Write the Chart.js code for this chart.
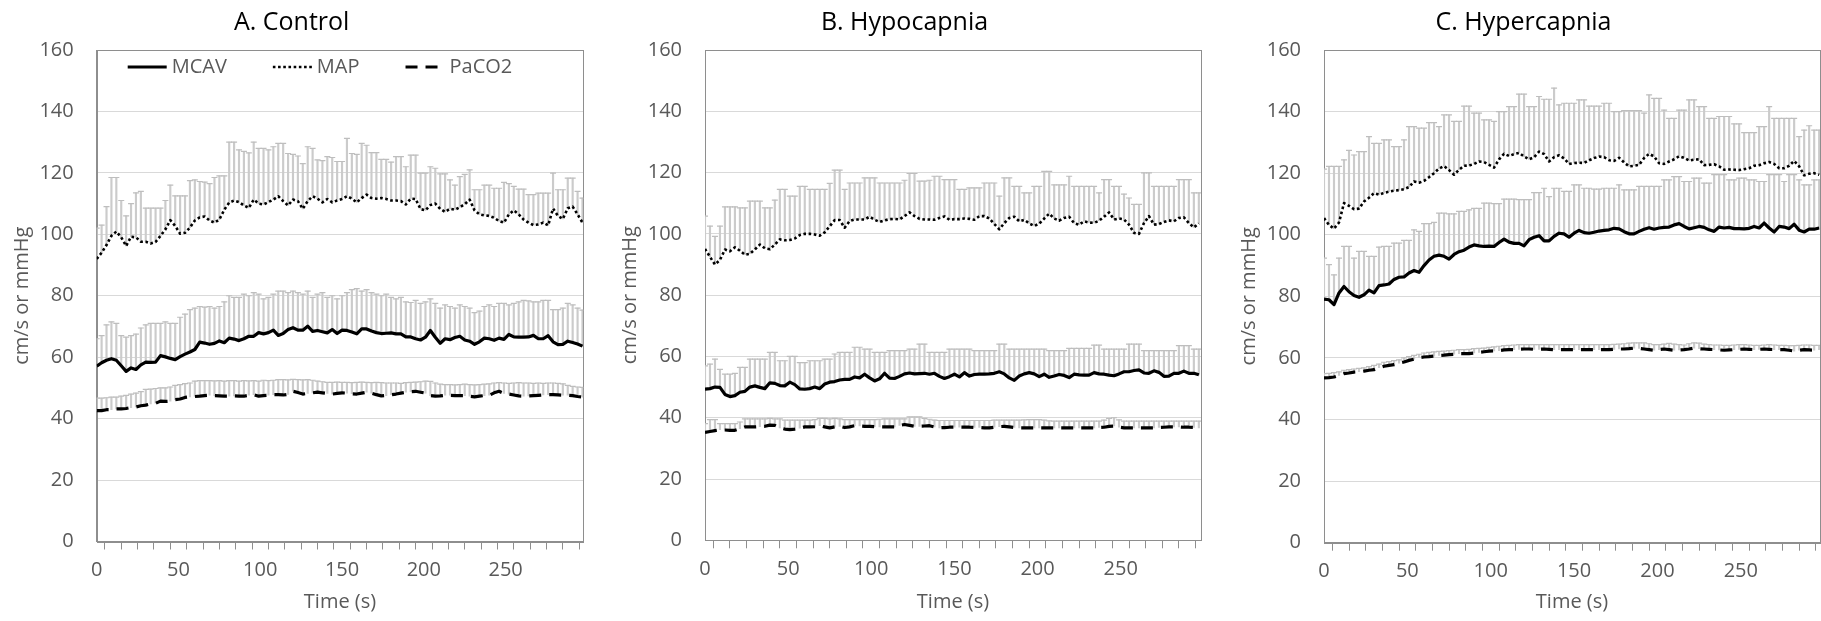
<!DOCTYPE html>
<html><head><meta charset="utf-8">
<script src="https://cdn.jsdelivr.net/npm/chart.js@4.4.1/dist/chart.umd.min.js"></script>
<style>
html,body{margin:0;padding:0;background:#fff;width:1821px;height:621px;overflow:hidden;position:relative}
.p{position:absolute;top:0;height:621px}
</style></head><body>
<div class="p" style="left:0px;width:680px"><canvas id="ca"></canvas></div>
<div class="p" style="left:608px;width:690px"><canvas id="cb"></canvas></div>
<div class="p" style="left:1227px;width:732px"><canvas id="cc"></canvas></div>
<script>
// ---- data (time in s) ----
const time = [0,3,6,9,12,15,18,21,24,27,30,33,36,39,42,45,48,51,54,57,60,63,66,69,72,75,78,81,84,87,90,93,96,99,102,105,108,111,114,117,120,123,126,129,132,135,138,141,144,147,150,153,156,159,162,165,168,171,174,177,180,183,186,189,192,195,198,201,204,207,210,213,216,219,222,225,228,231,234,237,240,243,246,249,252,255,258,261,264,267,270,273,276,279,282,285,288,291,294,297];
const xTickLabels = [0,50,100,150,200,250];
const yTickValues = [0,20,40,60,80,100,120,140,160];
const seriesNames = ['MCAV','MAP','PaCO2'];
const panelTitles = ['A. Control','B. Hypocapnia','C. Hypercapnia'];

// A. Control
const aMcav = [57.1,58.2,59,59.5,59,57.2,55.4,56.5,56,57.5,
 58.4,58.3,58.4,60.5,60.1,59.6,59.2,60.2,61,61.7,
 62.5,64.9,64.6,64.2,64.5,65.3,64.7,66.2,65.9,65.4,
 66,66.8,66.8,68,67.6,68,68.8,67.1,67.7,69,
 69.6,68.8,68.8,70.1,68.4,68.7,68.3,67.9,69,67.7,
 68.8,68.7,68.2,67.6,69.2,69.2,68.5,68,67.7,67.8,
 67.9,67.6,67.6,66.6,66.6,66,65.6,66.5,68.7,66.5,
 64.5,66,65.7,66.4,66.8,65.6,65.2,64.2,65,66.2,
 66,65.5,66.2,65.8,67.4,66.6,66.5,66.5,66.6,67.1,
 66,66,67,65,64.1,64.2,65.2,64.8,64.3,63.6];
const aMcavUp = [66,67,70.5,71.5,71,67,66.5,67,67.5,69.5,
 70.5,71,71,71,71.5,71,71,73,74,75.5,
 76,76.5,76.3,76.5,76,76.5,78,80,79.5,79.5,
 80.5,80,81,80.5,79,79.5,80.5,81.5,81.5,81,
 81.5,81,80.5,81.5,79.5,80.5,81,79.5,80,79,
 80,81,82,82.3,81.5,82,81,80.5,80,80.5,
 79.5,79,79.5,78,77.8,78.5,77.5,78,79,77.5,
 76,77,76.5,76,77,76.5,76,74.5,75,76.5,
 77,76.5,77.5,77.5,77,77.5,78,78.5,78.3,78,
 78,78.5,78.5,75.5,75.5,76,77.5,77,76,75.3];
const aMap = [92,94,96.5,99.5,100.9,99,96.2,99.2,99,97.6,
 97.6,97,97.5,99.5,101.6,104.6,102.7,100.2,100.5,102.2,
 104.5,105.5,105.8,104.5,103.8,104.8,108,110.3,111,110.5,
 109.4,108.6,111.3,110,109.7,110.5,111.3,112.4,110.8,109.4,
 111.3,110.8,108.3,110.8,112.4,111.6,110.4,111.5,110.4,111,
 111.5,112.4,111.6,110.4,111.8,112.9,111.8,111.6,111.8,111.5,
 111,111,110.8,109.7,111.6,111.5,108.2,107.8,109.5,110,
 108.3,107.3,108.3,108,108.8,109.8,111.3,107.8,106.5,106.2,
 106,105.4,104.3,103.8,106.5,107.8,106.5,104.8,103.8,103,
 103.2,103.8,102.9,108.4,106,105,108.5,109,106.5,103.8];
const aMapUp = [102,103,109,118.5,118.5,111,106,110,113.5,114,
 108.5,108.5,108.5,108.5,111,116,112.5,112.5,112.5,117.5,
 117.7,117.2,117,116.5,118.5,119,119,130,130,127.5,
 127,126.5,130,128,128,127.5,128.5,129.6,129.6,126.3,
 126,125.5,123,128.5,128,124.2,124,125.3,125,123.7,
 123.7,131.2,126.3,126,129.6,129,126.6,126.6,124.4,124.4,
 123.5,125.3,125.3,122,125.8,125.8,119.9,119.9,122,121.5,
 119.7,119.7,117.7,116,118.8,119.5,121,114.5,114.5,116,
 116,115,115,116.9,116.5,115.6,114.7,114.7,112.9,112.9,
 113.4,113.4,113.4,119.9,114.5,114.5,118.3,118.3,114,111.8];
const aPaco2 = [42.6,42.6,42.9,42.9,43.2,43.2,43.3,43.6,43.8,44.2,
 44.4,44.8,45,45.7,45.6,45.7,46.2,46.4,46.9,47.1,
 47.2,47.3,47.5,47.6,47.5,47.4,47.3,47.3,47.4,47.3,
 47.3,47.6,47.8,47.3,47.5,47.6,47.8,47.8,47.7,47.9,
 48.9,48.5,48,48.2,48.4,48.6,48.4,48.2,48,48.2,
 48.4,48.3,48.1,48,48.3,48.6,48.3,47.8,47.4,47.5,
 47.8,48,48.3,48.6,48.8,48.9,48.6,48.3,47.5,47.3,
 47.4,47.6,47.6,47.5,47.5,47.5,47.3,47.1,47.3,47.5,
 47.6,48.4,48.9,48.2,48,47.7,47.4,47.3,47.4,47.5,
 47.6,47.7,47.8,47.8,47.7,47.6,47.6,47.5,47.2,47];
const aPaco2Up = [46.7,46.7,46.8,47,47,47.3,47.6,48,48.3,48.8,
 49.5,49.6,49.8,50,50,50.3,50.8,51.1,51.4,51.6,
 52.2,52.4,52.4,52.4,52.3,52.4,52.2,52.4,52.4,52.2,
 52.4,52.3,52.4,52.2,52.5,52.4,52.5,52.7,52.7,52.6,
 52.8,52.7,52.6,52.7,52.5,52.2,52,51.8,51.8,51.9,
 51.8,51.8,51.7,51.8,51.9,51.8,51.7,51.8,51.7,51.6,
 51.6,51.6,51.5,51.7,51.8,51.9,52,52.2,52.1,51.6,
 51.2,51.1,51.1,51,51.1,51.2,51.1,51,51.1,51.2,
 51.3,51.6,51.7,51.6,51.5,51.6,51.7,51.6,51.6,51.5,
 51.6,51.5,51.6,51.6,51.5,51.3,50.8,50.5,50.3,50.2];

// B. Hypocapnia
const bMcav = [49.3,49.5,50,49.9,47.6,46.9,47.2,48.3,48.6,50,
 50.4,49.9,49.5,51.4,51.2,50.5,50.4,51.6,50.8,49.4,
 49.3,49.5,50,49.5,51,51.6,51.8,52.3,52.5,52.5,
 53.3,53,54.2,53,52,52.7,54.5,52.9,52.8,53.5,
 54.3,54.6,54.3,54.4,54.5,54.2,54.5,53.5,52.8,53.4,
 54.2,53.3,54.7,53.6,54.1,54.2,54.2,54.3,54.5,55,
 54.3,53,52.2,53.6,54.3,54.7,54.3,53.4,54.2,53.2,
 53.6,54.1,53.8,53.1,54.2,54,53.9,53.9,54.7,54.3,
 54.2,53.9,53.7,54.3,55,55,55.4,55.6,54.6,54.5,
 55.3,54.8,53.5,53.6,54.5,54.5,55.2,54.5,54.5,54];
const bMcavUp = [56.9,57.5,59.1,55.8,54.2,54.2,54.5,56.4,56.4,59.1,
 59.1,59.1,59.1,61.3,61.3,58.6,58.6,60,60,58,
 58,58.6,58.6,58.6,59.1,59.1,60.8,61.3,61.3,61.3,
 63,63,62.4,62.4,61.3,61.3,61.3,61.9,61.9,61.9,
 61.9,62.4,62.4,64,64,61.3,61.3,61.3,61.3,62.4,
 62.4,62.4,62.4,62.4,61.9,61.9,61.9,61.9,61.9,64,
 64,62.4,62.4,62.4,62.4,62.4,62.4,62.4,62.4,61.9,
 61.9,61.9,61.9,62.6,62.6,62.6,62.6,62.6,63.7,63.7,
 62.4,62.4,62.4,62.4,62.4,64,64,64,61.9,61.9,
 61.9,61.9,61.9,61.9,61.9,63.5,63.5,63.5,62.4,62.4];
const bMap = [95.1,92.5,90,91.5,94.9,94.3,95.6,94.5,93.2,93.5,
 94.9,96.5,95.3,95,96.5,98.2,97.9,98,98.5,99.6,
 100,100,99.8,99.4,100.5,102.5,104.5,104.5,102,104.2,
 104.7,104.7,104.7,105.6,104.6,103.9,104.4,104.8,104.9,104.7,
 105.8,107,105.8,104.9,104.7,104.7,104.6,105.2,105.7,104.6,
 104.8,104.8,105,104.9,104.6,105.8,105.8,105,103.2,101.5,
 103.5,105.2,105.6,104.1,104.6,103.4,102.6,103.3,105,106.6,
 105,104.3,105.2,105.6,103.5,103,104.1,103.7,103.6,104.3,
 105.6,107,104.7,105,104.7,103,100.3,100,103.5,105.8,
 103,103.2,103.9,104.4,104.1,105.2,105.4,103.5,102.1,103.4];
const bMapUp = [105.8,102.5,99.2,102.5,108.8,108.8,108.8,108.5,108.5,110.7,
 110.7,110.7,108.5,108.5,111,114.5,114.5,112.3,112.3,115.5,
 115.5,114.5,114.5,114.5,114.5,116.5,120.8,120.8,114.5,116.6,
 116.6,116.6,118.3,118.3,118.3,116.6,116.6,116.6,116.6,116.6,
 117.5,119.7,119.7,117.2,117.2,117.5,118.8,118.8,117.7,117.7,
 117.7,114.5,114.5,115,115,115,116.6,116.6,116.6,112.3,
 118.3,118.3,115.5,115.5,113.4,113.4,115.5,115.5,120.4,120.4,
 116,116,116,118.8,115.5,115.5,115.5,115.5,115.5,113.4,
 117.7,117.7,115.5,115.5,113,111.7,109.6,109.6,119.9,119.9,
 115.5,115.5,115.5,115.5,115.5,117.7,117.7,117.7,113.4,113.4];
const bPaco2 = [35.2,35.5,35.8,36.1,36,35.9,35.9,36.4,37,37,
 37,37.1,37.2,37.6,37.5,36.7,36.3,36.1,36.3,36.6,
 37,37,37.1,37.4,37,36.7,37,37.2,36.8,37,
 37.4,37.3,37.2,37.2,37.1,37,37,37,37,37.5,
 37.8,37.5,37.2,37.2,37.3,37.4,37,36.7,36.8,36.9,
 36.9,36.9,36.9,36.9,36.8,36.8,36.7,36.7,36.9,37.1,
 37.2,37,36.8,36.7,36.7,36.7,36.7,36.7,36.7,36.7,
 36.7,36.7,36.7,36.7,36.7,36.7,36.7,36.7,36.7,36.8,
 36.9,37.2,37.3,36.9,36.7,36.7,36.7,36.7,36.7,36.7,
 36.7,36.8,36.9,37,37,37,36.9,36.9,36.8,36.7];
const bPaco2Up = [38.1,39.4,39.4,38.1,38.1,38.1,38.1,38.6,39.6,39.6,
 39.6,39.6,39.6,39.8,39.6,39.6,39.2,39.2,39.2,39.2,
 39.2,39.2,39.4,39.8,39.8,39.6,39.8,39.6,39.4,39.4,
 39.4,39.4,39.4,39.4,39.4,39.5,39.6,39.6,39.6,39.6,
 39.6,40.3,40.3,40.3,39.8,39.5,39.2,39.1,39.1,39.1,
 39.1,39.1,39.1,39.1,39.1,39.1,39.1,39.1,39.2,39.2,
 39.2,39.2,39.2,39.2,39.3,39.4,39.4,39.4,39.2,39,
 38.9,38.9,38.9,38.9,38.9,38.9,38.9,38.9,38.9,38.9,
 39.2,39.8,40,39.3,38.9,38.9,38.9,38.9,38.9,38.9,
 38.9,38.9,38.9,38.9,38.9,38.9,38.9,38.9,38.9,38.9];

// C. Hypercapnia
const cMcav = [79.1,78.9,77.3,81.1,83.2,81.5,80.3,79.7,80.5,82,
 81.1,83.5,83.7,84,85.5,86.2,86.3,87.6,88.4,87.8,
 90,91.8,93,93.4,93,92.1,93.6,94.5,95,96,
 96.7,96.4,96.2,96.3,96.2,97.5,98.6,97.6,97.2,97.2,
 96.4,98.4,99.2,99.7,98,98,99.5,100.5,100.3,99.2,
 100.5,101.4,100.7,100.5,100.8,101.2,101.4,101.6,102.1,101.9,
 101,100.3,100.3,101.1,101.8,102.3,101.8,102.2,102.4,102.5,
 103.2,103.6,102.7,101.9,102.3,102.7,102.4,101.6,101.1,102.5,
 102.2,102.4,102,102,101.9,102.1,102.7,102.2,103.8,102.2,
 100.9,102.7,102.5,102,103.4,101.5,100.9,101.8,101.8,102.2];
const cMcavUp = [92.4,90.3,87,92.4,96.2,96.2,92.4,94.6,94.6,93,
 93,96,96.2,96.2,97.3,97.3,98.2,98.2,101.6,101.1,
 103.6,103.6,104,107,107,106.8,106.8,107.6,107.6,108.1,
 108.6,108.6,110.3,110.3,110.1,110.1,111.6,111.6,111.6,111.4,
 111.4,111.4,113.7,113.7,115.1,112.4,115.1,115.1,114.1,114.1,
 116.2,116.2,115.1,115.1,114.8,114.8,115.1,115.1,115.1,116.2,
 114.6,114.6,114.6,115.7,115.7,115.7,115.7,115.7,117.8,117.8,
 118.9,118.9,117.3,117.3,118.4,118.4,116.8,116.8,119.5,119.5,
 119.5,117.8,117.8,118.4,118.4,117.8,117.8,117.3,117.3,119.5,
 119.5,119.5,117.3,119.5,119.5,117.8,116.2,116.2,117.8,117.8];
const cMap = [105.4,103.2,102,104,110.3,109.4,108.3,108.5,110.8,112,
 113.5,113,113.6,114,114.3,114.5,114.8,115.5,117.3,116.9,
 117.5,118.7,120,121.5,122.3,121,119.5,121.1,122.4,122.5,
 123,123.8,123.6,122.7,121.8,124.5,126.3,125.6,126.2,126.6,
 125.4,124.5,125.2,127,126.2,123.8,125.2,125.8,124.8,123,
 123.3,123.4,123.3,124.2,124.9,125.4,125.2,124.2,124,125,
 123.5,122.2,122.4,122.7,124.9,126.3,125.4,123.2,123,123.8,
 124.5,125.5,125,124.1,124.4,124.5,122.6,122.7,122.9,122.2,
 121.1,121.2,121.1,121,121.3,121.6,122.4,122.6,123.2,123.6,
 123,121.6,121.6,122.4,124,122.2,119.3,119.8,120,119.5];
const cMapUp = [121.3,122.2,122.2,122.2,124.3,127.4,125.9,127,127,131.9,
 129.7,129.7,130.8,130.8,128.6,128.6,130.8,135.1,135.1,134.6,
 134.6,136.4,136.4,135.1,138.9,138.9,136.8,136.8,141.8,141.8,
 139.5,139.5,137.3,137.3,136.8,140,140,141.6,141.6,145.7,
 145.7,141.6,141.6,144.9,144,144,147.6,142.2,142.7,142.7,
 142.7,143.8,143.8,141.8,141.8,141.8,142.7,142.7,140,140,
 140.3,140.3,140.3,140.3,139.5,145.4,144.3,144.3,140.5,137.8,
 137.8,140.5,140.5,143.8,143.8,141.6,141.6,137.8,137.8,138.4,
 138.4,138.4,136,136,133.2,133.2,133.2,135.1,135.1,141.6,
 137.8,137.8,137.8,137.8,137.8,131.9,134,135.4,134,134];
const cPaco2 = [53.5,53.6,53.8,54.3,54.9,55.1,55.4,55.5,55.7,56,
 56.2,56.8,57.3,57.6,57.8,58.3,58.7,59.2,59.6,60.1,
 60.3,60.4,60.6,60.8,60.9,61.1,61.2,61.4,61.4,61.4,
 61.6,61.8,62,62.2,62.3,62.4,62.6,62.7,62.7,62.8,
 62.9,62.9,62.8,62.8,62.9,62.8,62.7,62.7,62.7,62.7,
 62.7,62.7,62.7,62.7,62.7,62.7,62.7,62.7,62.8,62.9,
 62.9,63,63.2,63.1,62.9,62.7,62.5,62.7,62.9,62.7,
 62.5,62.6,62.7,62.9,63.2,63,62.9,62.8,62.7,62.6,
 62.5,62.6,62.7,62.8,62.9,62.8,62.7,62.8,62.9,62.8,
 62.7,62.7,62.7,62.5,62.2,62.5,62.7,62.6,62.5,62.7];
const cPaco2Up = [54.9,55,55.2,55.5,56,56.2,56.4,56.6,56.8,57.2,
 57.6,58,58.6,58.8,59.1,59.4,60,60.4,60.8,61.2,
 61.6,61.8,62,62.1,62.2,62.4,62.5,62.7,62.7,62.8,
 63,63.1,63.2,63.4,63.6,63.8,64,64.1,64.2,64.3,
 64.3,64.3,64.3,64.3,64.3,64.3,64.3,64.3,64.3,64.3,
 64.3,64.3,64.3,64.3,64.3,64.3,64.3,64.3,64.4,64.5,
 64.6,64.8,64.9,64.9,64.9,64.6,64.3,64.3,64.5,64.7,
 64.5,64.3,64.2,64.6,64.9,64.8,64.5,64.3,64.2,64.2,
 64.1,64.1,64.2,64.3,64.3,64.2,64.1,64.1,64.2,64.3,
 64.2,64.1,64.1,64,64,64.1,64.2,64.2,64.1,64.1];

// ---- rendering ----
Chart.defaults.font.family = "'Open Sans', 'DejaVu Sans', sans-serif";
Chart.defaults.color = '#595959';

const AXIS = '#8e8e8e';

const framePlugin = {
  id: 'frame',
  beforeDatasetsDraw(chart) {
    const {ctx, chartArea: a} = chart;
    ctx.save();
    ctx.strokeStyle = AXIS;
    ctx.lineWidth = 1;
    const l = Math.round(a.left) + 0.5, t = Math.round(a.top) + 0.5;
    const r = Math.round(a.right) + 0.5, b = Math.round(a.bottom) + 0.5;
    ctx.strokeRect(l, t, r - l, b - t);
    ctx.restore();
  }
};

const insideLegend = {
  id: 'insideLegend',
  afterDraw(chart, args, opts) {
    if (!opts || !opts.show) return;
    const {ctx, chartArea: a} = chart;
    let x = a.left + opts.offsetX;
    const y = a.top + opts.offsetY;
    ctx.save();
    ctx.font = "20px 'Open Sans'";
    ctx.textBaseline = 'middle';
    ctx.textAlign = 'left';
    chart.data.datasets.filter(d => d.inLegend).forEach(d => {
      ctx.beginPath();
      ctx.setLineDash(d.borderDash || []);
      ctx.lineWidth = d.borderWidth;
      ctx.strokeStyle = d.borderColor;
      ctx.moveTo(x, y); ctx.lineTo(x + opts.lineLen, y);
      ctx.stroke();
      ctx.setLineDash([]);
      x += opts.lineLen + opts.textGap;
      ctx.fillStyle = '#595959';
      ctx.fillText(d.label, x, y);
      x += ctx.measureText(d.label).width + opts.itemGap;
    });
    ctx.restore();
  }
};

const styles = [
  {borderColor: '#000', borderWidth: 3.2, borderDash: []},
  {borderColor: '#000', borderWidth: 2.6, borderDash: [2.6, 2.6]},
  {borderColor: '#000', borderWidth: 3.2, borderDash: [12, 8]}
];

function pts(ys) { return time.map((t, i) => ({x: t, y: ys[i]})); }
function rng(lo, hi) { return time.map((t, i) => ({x: t, y: [lo[i], hi[i]]})); }

function makeChart(id, title, series, xMax, yW, xH, padRight, showLegend) {
  const datasets = [];
  series.forEach((s, k) => {
    datasets.push({type: 'bar', label: '', data: rng(s.mean, s.up), backgroundColor: '#cbcbcb',
      borderWidth: 0, barThickness: 1.5, grouped: false, order: 5});
    datasets.push({type: 'line', label: '', data: pts(s.up), showLine: false, pointStyle: 'line',
      pointRadius: 3, pointBorderColor: '#bebebe', pointBorderWidth: 1.2, order: 4});
  });
  series.forEach((s, k) => {
    datasets.push(Object.assign({type: 'line', label: seriesNames[k], inLegend: true, data: pts(s.mean),
      pointRadius: 0, tension: 0, fill: false, order: k === 0 ? 0 : 1, borderJoinStyle: 'round'}, styles[k]));
  });
  return new Chart(document.getElementById(id), {
    type: 'line',
    data: {datasets},
    plugins: [framePlugin, insideLegend],
    options: {
      responsive: true, maintainAspectRatio: false, animation: false,
      events: [],
      layout: {padding: {left: 0, right: padRight, top: 0, bottom: 0}},
      plugins: {
        legend: {display: false},
        tooltip: {enabled: false},
        title: {display: true, text: title, color: '#000', font: {size: 25, weight: 'normal'},
          padding: {top: 8, bottom: 12}},
        insideLegend: {show: showLegend, offsetX: 31, offsetY: 17, lineLen: 39, textGap: 5, itemGap: 46}
      },
      scales: {
        x: {
          type: 'linear', min: 0, max: xMax, offset: false,
          afterFit(s) { s.height = xH; },
          ticks: {stepSize: 10, autoSkip: false, includeBounds: false, maxRotation: 0, padding: 9,
            font: {size: 20}, color: '#595959',
            callback: v => xTickLabels.includes(Math.round(v)) ? String(Math.round(v)) : ''},
          grid: {drawOnChartArea: false, drawTicks: true, tickLength: 8, color: AXIS},
          border: {color: AXIS},
          title: {display: true, text: 'Time (s)', font: {size: 20}, color: '#595959', padding: {top: 0, bottom: 7}}
        },
        y: {
          min: 0, max: 160,
          afterFit(s) { s.width = yW; },
          afterBuildTicks(s) { s.ticks = yTickValues.map(v => ({value: v})); },
          ticks: {padding: 23, font: {size: 20}, color: '#595959'},
          grid: {color: '#d9d9d9', drawTicks: false},
          border: {color: AXIS},
          title: {display: true, text: 'cm/s or mmHg', font: {size: 20}, color: '#595959', padding: {top: 10, bottom: 0}}
        }
      }
    }
  });
}

makeChart('ca', panelTitles[0], [
  {mean: aMcav, up: aMcavUp}, {mean: aMap, up: aMapUp}, {mean: aPaco2, up: aPaco2Up}
], 297.5, 96.7, 79.5, 96.7, true);
makeChart('cb', panelTitles[1], [
  {mean: bMcav, up: bMcavUp}, {mean: bMap, up: bMapUp}, {mean: bPaco2, up: bPaco2Up}
], 298.3, 97, 80.7, 97, false);
makeChart('cc', panelTitles[2], [
  {mean: cMcav, up: cMcavUp}, {mean: cMap, up: cMapUp}, {mean: cPaco2, up: cPaco2Up}
], 297.5, 97, 78.3, 139, false);
</script>
</body></html>
